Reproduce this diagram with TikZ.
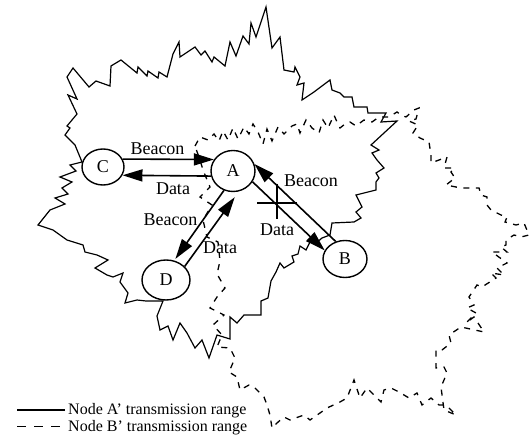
\documentclass[tikz,border=0pt]{standalone}
\usepackage{fontspec}
\setmainfont{Liberation Serif}
\usetikzlibrary{arrows.meta,shapes.geometric}
\tikzset{
  nd/.style={ellipse,draw,line width=1.4pt,fill=white,inner sep=0pt,font=\fontsize{18}{20}\selectfont},
  arr/.style={line width=1.6pt,-{Triangle[length=20pt,width=12pt]}},
  lbl/.style={font=\fontsize{18}{20}\selectfont,inner sep=0pt},
  rangeA/.style={line width=1.2pt,line join=miter},
  rangeB/.style={line width=1.3pt,dash pattern=on 6pt off 6.5pt},
  legtxt/.style={font=\fontsize{16}{18}\selectfont,inner sep=0pt,anchor=base west},
  crossline/.style={line width=1.4pt}
}
\begin{document}
\begin{tikzpicture}[x=1pt,y=-1pt]
\useasboundingbox (0,0) rectangle (531,435);
% Node A transmission range (solid)
\draw[rangeA] (67,77) -- (73,68) -- (89,87) -- (96,81) -- (110,86) -- (111,66) -- (121,60) -- (137,73) -- (138,67) -- (147,76) -- (148,71) -- (158,78) -- (159,72) -- (167,77) -- (173,54) -- (179,42) -- (180,57) -- (195,47) -- (201,55) -- (205,51) -- (212,62) -- (214,57) -- (225,66) -- (230,42) -- (236,56) -- (243,36) -- (249,44) -- (251,23) -- (256,37) -- (266,7) -- (272,48) -- (280,37) -- (284,70) -- (294,72) -- (295,67) -- (300,77) -- (297,85) -- (304,83) -- (302,100) -- (314,92) -- (322,86) -- (330,80) -- (332,90) -- (340,93) -- (344,97) -- (352,97) -- (354,107) -- (367,107) -- (368,113) -- (386,113) -- (381,122) -- (397,121) -- (371,145) -- (379,150) -- (372,153) -- (377,160) -- (384,168) -- (376,173) -- (379,178) -- (376,182) -- (376,190) -- (356,195) -- (362,207) -- (356,212) -- (361,218) -- (354,222) -- (332,223) -- (330,235) -- (322,238) -- (315,244) -- (311,240) -- (306,250) -- (300,246) -- (298,254) -- (292,256) -- (294,262) -- (284,268) -- (280,263) -- (276,272) -- (271,281) -- (268,298) -- (261,301) -- (261,315) -- (244,315) -- (237,323) -- (230,317) -- (230,339) -- (217,335) -- (209,358) -- (202,340) -- (195,348) -- (187,333) -- (180,323) -- (173,340) -- (168,326) -- (160,330) -- (157,316) -- (163,301) -- (146,301) -- (137,300) -- (125,303) -- (128,293) -- (120,282) -- (123,273) -- (113,277) -- (107,275) -- (95,268) -- (108,260) -- (97,255) -- (85,252) -- (83,245) -- (67,240) -- (53,230) -- (38,225) -- (50,210) -- (65,204) -- (55,198) -- (68,194) -- (62,188) -- (72,182) -- (60,177) -- (76,171) -- (70,165) -- (82,162) -- (75,145) -- (65,135) -- (70,128) -- (67,126) -- (77,114) -- (68,95) -- (77,99) -- cycle;
% Node B transmission range (dashed)
\draw[rangeB] (195,146) -- (200,137) -- (208,140) -- (214,134) -- (219,141) -- (223,131) -- (228,140) -- (233,128) -- (238,139) -- (244,127) -- (249,134) -- (253,124) -- (258,132) -- (263,144) -- (267,129) -- (272,141) -- (278,127) -- (284,134) -- (292,126) -- (297,124) -- (300,133) -- (306,120) -- (312,128) -- (319,133) -- (323,120) -- (328,128) -- (334,115) -- (337,122) -- (340,128) -- (345,124) -- (350,122) -- (356,126) -- (364,120) -- (372,122) -- (379,117) -- (389,117) -- (397,112) -- (401,115) -- (406,117) -- (414,110) -- (419,108) -- (416,119) -- (409,121) -- (418,125) -- (413,133) -- (420,138) -- (429,142) -- (431,155) -- (431,163) -- (439,160) -- (447,157) -- (444,168) -- (454,168) -- (451,172) -- (455,178) -- (446,185) -- (461,188) -- (469,188) -- (479,188) -- (481,195) -- (487,197) -- (487,205) -- (491,210) -- (501,215) -- (507,217) -- (505,222) -- (516,225) -- (524,223) -- (529,235) -- (521,237) -- (514,235) -- (506,240) -- (506,245) -- (501,247) -- (507,252) -- (492,252) -- (507,263) -- (497,268) -- (504,275) -- (491,273) -- (496,278) -- (482,287) -- (477,285) -- (469,297) -- (474,305) -- (467,308) -- (476,313) -- (466,323) -- (474,317) -- (484,332) -- (461,327) -- (449,335) -- (451,343) -- (442,350) -- (436,350) -- (436,368) -- (444,367) -- (447,373) -- (441,387) -- (444,410) -- (456,415) -- (446,405) -- (439,405) -- (431,398) -- (422,405) -- (417,393) -- (409,398) -- (399,392) -- (391,388) -- (384,390) -- (381,402) -- (376,397) -- (367,388) -- (360,398) -- (354,380) -- (347,398) -- (340,402) -- (327,408) -- (320,413) -- (310,420) -- (304,415) -- (290,420) -- (284,417) -- (277,423) -- (272,428) -- (270,415) -- (267,405) -- (264,397) -- (254,387) -- (249,385) -- (240,390) -- (237,377) -- (229,372) -- (232,365) -- (235,358) -- (230,348) -- (217,347) -- (222,335) -- (213,325) -- (224,315) -- (210,308) -- (217,297) -- (225,288) -- (217,274) -- (220,261) -- (218,242) -- (207,237) -- (203,220) -- (212,205) -- (200,197) -- (210,187) -- (203,170) -- (200,160) -- cycle;
% nodes
\node[nd,minimum width=42pt,minimum height=36pt] (C) at (103,167) {C};
\node[nd,minimum width=44pt,minimum height=41pt] (A) at (233,171) {A};
\node[nd,minimum width=48pt,minimum height=40pt] (D) at (166,280) {D};
\node[nd,minimum width=44pt,minimum height=37pt] (B) at (345,259) {B};
% connectors
\draw[arr] (C.22) -- (A.149);
\draw[arr] (A.193) -- (C.337);
\draw[arr,shorten >=2pt] (A.245) -- (D.67);
\draw[arr,shorten >=7pt] (D.36) -- (A.286);
\draw[arr] (A.331) -- (B.157);
\draw[arr] (B.118) -- (A.18);
% cross on the A-B data link
\coordinate (xl) at (257,203);
\coordinate (xr) at (297,203);
\coordinate (xt) at (277,184);
\coordinate (xb) at (277,219);
\draw[crossline] (xl) -- (xr);
\draw[crossline] (xt) -- (xb);
% labels
\node[lbl] (l1) at (157.5,149) {Beacon};
\node[lbl] (l2) at (173,189) {Data};
\node[lbl] (l3) at (170.5,220) {Beacon};
\node[lbl] (l4) at (220,248) {Data};
\node[lbl] (l5) at (277,230) {Data};
\node[lbl] (l6) at (311,181) {Beacon};
% legend
\coordinate (s1) at (17,410);
\coordinate (s2) at (65,410);
\coordinate (d1) at (17,426.5);
\coordinate (d2) at (63,426.5);
\draw[line width=1.2pt] (s1) -- (s2);
\draw[line width=1.2pt,dash pattern=on 9pt off 8pt] (d1) -- (d2);
\node[legtxt] (t1) at (68,415) {Node A’ transmission range};
\node[legtxt] (t2) at (68,431.5) {Node B’ transmission range};
\end{tikzpicture}
\end{document}
